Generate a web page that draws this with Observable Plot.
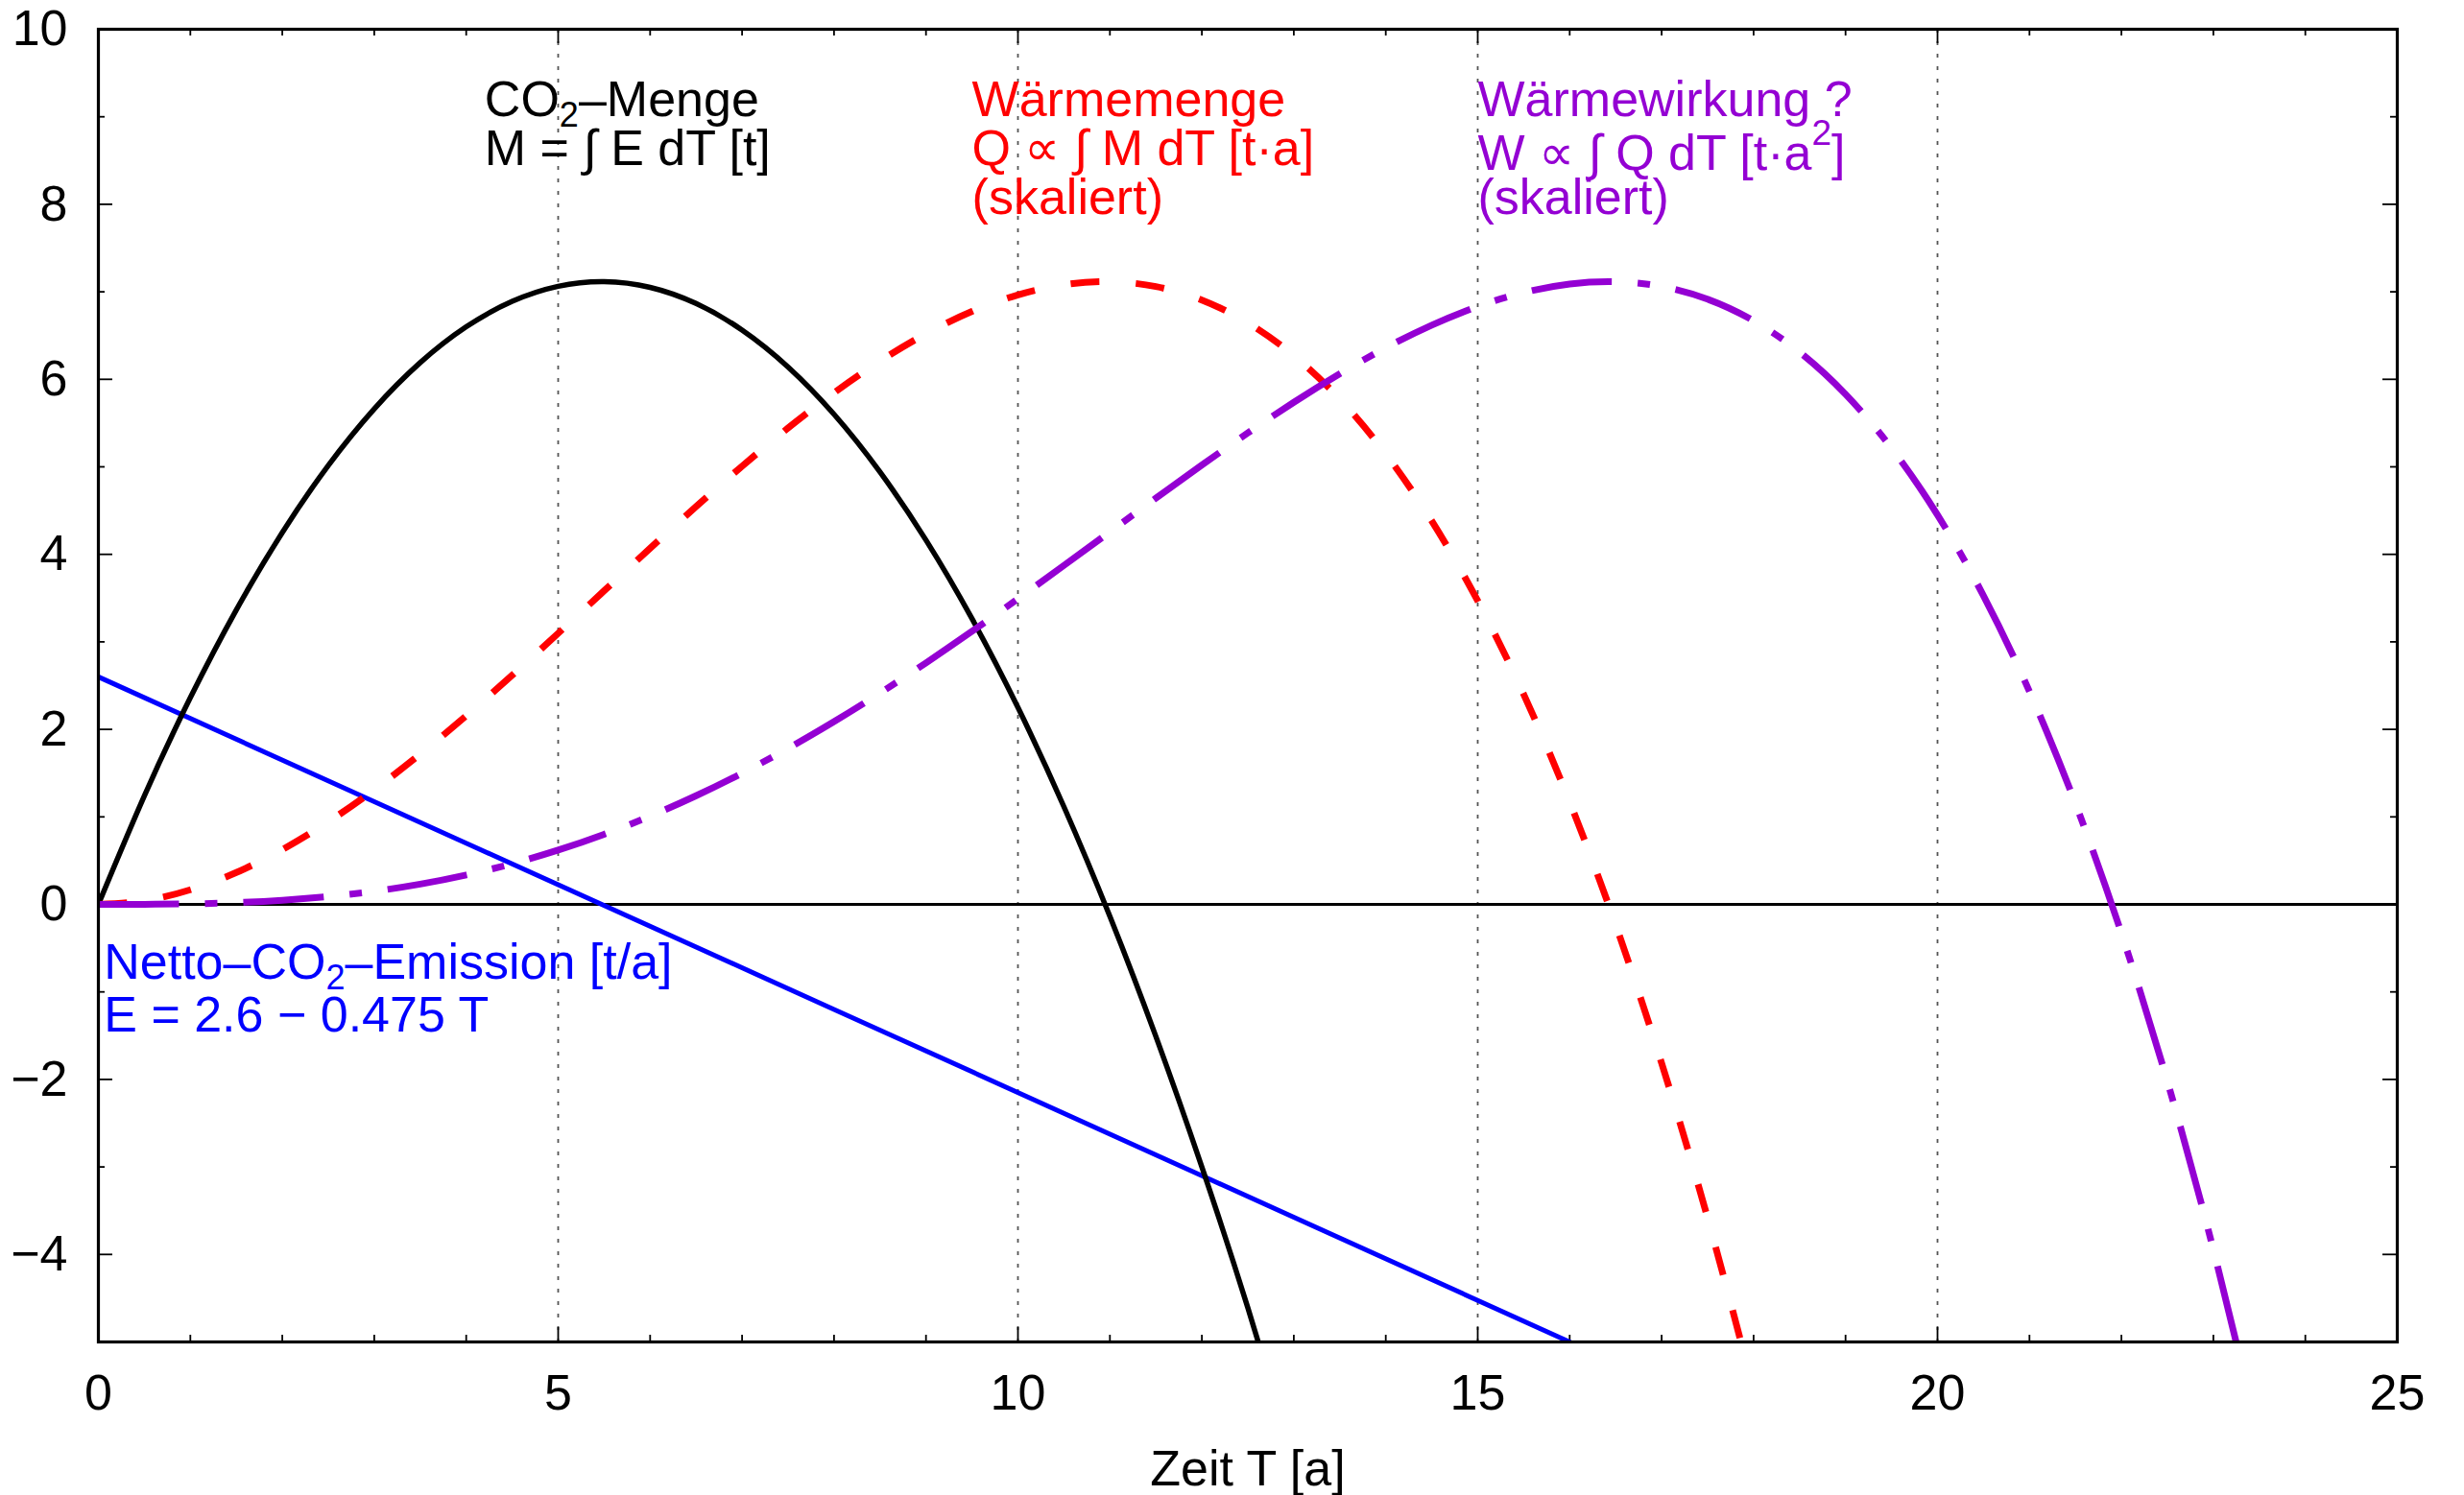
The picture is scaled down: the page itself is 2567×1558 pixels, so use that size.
<!DOCTYPE html>
<html>
<head>
<meta charset="utf-8">
<script src="https://cdn.jsdelivr.net/npm/d3@7"></script>
<script src="https://cdn.jsdelivr.net/npm/@observablehq/plot@0.6"></script>
<style>
  html, body { margin: 0; padding: 0; background: #fff; }
  svg { display: block; }
</style>
</head>
<body>
<div id="chart"></div>
<script>
// ---- data ----
const T_E = [0, 4, 8, 12, 16];
const E   = [2.6, 0.7, -1.2, -3.1, -5.0];

const T_M = [0,0.5,1,1.5,2,2.5,3,3.5,4,4.5,5,5.5,6,6.5,7,7.5,8,8.5,9,9.5,10,10.5,11,11.5,12,12.5,13];
const M   = [0,1.2406,2.3625,3.3656,4.25,5.0156,5.6625,6.1906,6.6,6.8906,7.0625,7.1156,7.05,6.8656,6.5625,6.1406,5.6,4.9406,4.1625,3.2656,2.25,1.1156,-0.1375,-1.5094,-3.0,-4.6094,-6.3375];

const T_Q = [0,0.5,1,1.5,2,2.5,3,3.5,4,4.5,5,5.5,6,6.5,7,7.5,8,8.5,9,9.5,10,10.5,11,11.5,12,12.5,13,13.5,14,14.5,15,15.5,16,16.5,17,17.5,18];
const Q   = [0,0.0432,0.1673,0.3642,0.6257,0.9438,1.3103,1.7170,2.1558,2.6186,3.0972,3.5836,4.0695,4.5469,5.0075,5.4434,5.8462,6.2080,6.5205,6.7756,6.9652,7.0812,7.1153,7.0596,6.9058,6.6458,6.2715,5.7747,5.1474,4.3812,3.4683,2.4003,1.1692,-0.2333,-1.8151,-3.5844,-5.5495];

const T_W = [0,0.5,1,1.5,2,2.5,3,3.5,4,4.5,5,5.5,6,6.5,7,7.5,8,8.5,9,9.5,10,10.5,11,11.5,12,12.5,13,13.5,14,14.5,15,15.5,16,16.5,17,17.5,18,18.5,19,19.5,20,20.5,21,21.5,22,22.5,23,23.5];
const W   = [0,0.0008,0.0061,0.0202,0.0467,0.0890,0.1498,0.2316,0.3363,0.4654,0.6201,0.8009,1.0080,1.2413,1.5000,1.7830,2.0888,2.4152,2.7600,3.1202,3.4924,3.8730,4.2576,4.6417,5.0202,5.3874,5.7376,6.0643,6.3605,6.6190,6.8322,6.9917,7.0891,7.1152,7.0606,6.9153,6.6690,6.3108,5.8295,5.2134,4.4504,3.5278,2.4328,1.1517,-0.3292,-2.0234,-3.9466,-6.1160];

const xTickLabels = [0, 5, 10, 15, 20, 25];
const yTickLabels = [-4, -2, 0, 2, 4, 6, 8, 10];
const xMinorTicks = [1,2,3,4,6,7,8,9,11,12,13,14,16,17,18,19,21,22,23,24];
const yMinorTicks = [-3,-1,1,3,5,7,9];
const gridX = [5, 10, 15, 20];
const xLabel = "Zeit T [a]";

const annotations = [
  {text: "CO₂–Menge",                 x: 4.2,  y: 9.01,  color: "#000000"},
  {text: "M = ∫ E dT [t]",            x: 4.2,  y: 8.45,  color: "#000000"},
  {text: "Wärmemenge",                x: 9.5,  y: 9.01,  color: "#ff0000"},
  {text: "Q ∝ ∫ M dT [t·a]",          x: 9.5,  y: 8.45,  color: "#ff0000"},
  {text: "(skaliert)",                x: 9.5,  y: 7.89,  color: "#ff0000"},
  {text: "Wärmewirkung ?",            x: 15.0, y: 9.01,  color: "#9400d3"},
  {text: "W ∝ ∫ Q dT [t·a²]",         x: 15.0, y: 8.39,  color: "#9400d3"},
  {text: "(skaliert)",                x: 15.0, y: 7.89,  color: "#9400d3"},
  {text: "Netto–CO₂–Emission [t/a]",  x: 0.06, y: -0.855, color: "#0000ff"},
  {text: "E = 2.6 − 0.475 T",         x: 0.06, y: -1.458, color: "#0000ff"}
];

// ---- build tables ----
const rows = (T, V) => T.map((t, i) => ({t, v: V[i]}));
const X0 = 0, X1 = 25, Y0 = -5, Y1 = 10;
const MAJ = 15, MIN = 7;
const fmt = d => d < 0 ? "\u2212" + Math.abs(d) : String(d);
const tickStyle = {stroke: "#000", strokeWidth: 1.8};

const xMajorInner = xTickLabels.filter(d => d > X0 && d < X1);
const yMajorInner = yTickLabels.filter(d => d > Y0 && d < Y1);

const chart = Plot.plot({
  width: 2567,
  height: 1558,
  marginLeft: 102,
  marginRight: 70,
  marginTop: 30,
  marginBottom: 160,
  x: {domain: [X0, X1]},
  y: {domain: [Y0, Y1]},
  style: {
    fontFamily: "'Liberation Sans', Arial, Helvetica, sans-serif",
    fontSize: "52px",
    background: "#ffffff",
    color: "#000"
  },
  marks: [
    Plot.ruleX(gridX, {stroke: "#555", strokeWidth: 1.8, strokeDasharray: "4,9"}),
    Plot.ruleY([0], {stroke: "#000", strokeWidth: 3}),

    // inward ticks on all four sides
    Plot.ruleX(xMajorInner, {x: d => d, y1: () => Y0, y2: () => Y0, insetBottom: MAJ, ...tickStyle}),
    Plot.ruleX(xMinorTicks, {x: d => d, y1: () => Y0, y2: () => Y0, insetBottom: MIN, ...tickStyle}),
    Plot.ruleX(xMajorInner, {x: d => d, y1: () => Y1, y2: () => Y1, insetTop: MAJ, ...tickStyle}),
    Plot.ruleX(xMinorTicks, {x: d => d, y1: () => Y1, y2: () => Y1, insetTop: MIN, ...tickStyle}),
    Plot.ruleY(yMajorInner, {y: d => d, x1: () => X0, x2: () => X0, insetLeft: MAJ, ...tickStyle}),
    Plot.ruleY(yMinorTicks, {y: d => d, x1: () => X0, x2: () => X0, insetLeft: MIN, ...tickStyle}),
    Plot.ruleY(yMajorInner, {y: d => d, x1: () => X1, x2: () => X1, insetRight: MAJ, ...tickStyle}),
    Plot.ruleY(yMinorTicks, {y: d => d, x1: () => X1, x2: () => X1, insetRight: MIN, ...tickStyle}),

    // series
    Plot.line(rows(T_E, E), {x: "t", y: "v", stroke: "#0000ff", strokeWidth: 5, clip: true}),
    Plot.line(rows(T_M, M), {x: "t", y: "v", stroke: "#000000", strokeWidth: 5.5, curve: "natural", clip: true}),
    Plot.line(rows(T_Q, Q), {x: "t", y: "v", stroke: "#ff0000", strokeWidth: 7, curve: "natural",
      strokeDasharray: "30,38", strokeLinecap: "butt", clip: true}),
    Plot.line(rows(T_W, W), {x: "t", y: "v", stroke: "#9400d3", strokeWidth: 7, curve: "natural",
      strokeDasharray: "84,27,13,27", strokeLinecap: "butt", clip: true}),

    Plot.frame({stroke: "#000", strokeWidth: 3.2}),

    Plot.axisX(xTickLabels, {tickSize: 0, tickPadding: 34, tickFormat: fmt, label: null, fontSize: 52}),
    Plot.axisY(yTickLabels, {tickSize: 0, tickPadding: 32, tickFormat: fmt, label: null, fontSize: 52}),

    Plot.text(annotations, {x: "x", y: "y", text: "text", fill: "color",
      textAnchor: "start", lineAnchor: "bottom", fontSize: 52}),
    Plot.text([xLabel], {x: () => (X0 + X1) / 2, y: () => Y0, text: d => d, dy: 149,
      lineAnchor: "bottom", textAnchor: "middle", fontSize: 52, fill: "#000"})
  ]
});

// gnuplot-style sub/superscripts
chart.querySelectorAll("text").forEach(t => {
  if (t.querySelector("tspan")) return;
  const s = t.textContent;
  if (!/[₂²]/.test(s)) return;
  t.textContent = "";
  let cur = 0;
  for (const part of s.match(/[₂²]|[^₂²]+/g)) {
    const ts = document.createElementNS("http://www.w3.org/2000/svg", "tspan");
    let target = 0;
    if (part === "₂") { target = 11; ts.setAttribute("font-size", "36px"); ts.textContent = "2"; }
    else if (part === "²") { target = -26; ts.setAttribute("font-size", "37px"); ts.textContent = "2"; }
    else ts.textContent = part;
    if (target !== cur) ts.setAttribute("dy", target - cur);
    cur = target;
    t.appendChild(ts);
  }
});

document.getElementById("chart").appendChild(chart);
</script>
</body>
</html>
